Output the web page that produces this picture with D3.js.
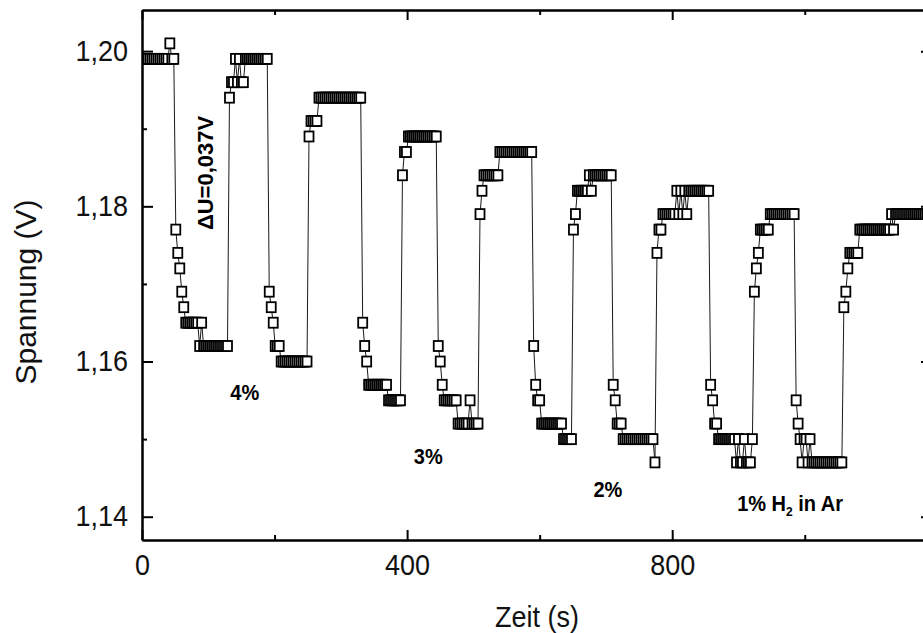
<!DOCTYPE html>
<html><head><meta charset="utf-8">
<script src="https://cdn.jsdelivr.net/npm/d3@7"></script>
<style>html,body{margin:0;padding:0;background:#fff;overflow:hidden}</style>
</head><body>
<svg id="chart" width="923" height="633"></svg>
<script>
// ---------- data ----------
const sampleStep = 3; // seconds between measurements
const voltage = [
  1.199,1.199,1.199,1.199,1.199,1.199,1.199,1.199,1.199,1.199,1.199,1.199,1.199,1.199,1.201,1.199,1.199,
  1.177,1.174,1.172,1.169,1.167,1.165,1.165,1.165,1.165,1.165,1.165,1.165,1.162,1.165,1.162,1.162,1.162,1.162,1.162,1.162,1.162,1.162,1.162,1.162,1.162,1.162,1.162,
  1.194,1.196,1.196,1.199,1.196,1.199,1.196,1.196,1.199,1.199,1.199,1.199,1.199,1.199,1.199,1.199,1.199,1.199,1.199,1.199,
  1.169,1.167,1.165,1.162,1.162,1.162,1.160,1.160,1.160,1.160,1.160,1.160,1.160,1.160,1.160,1.160,1.160,1.160,1.160,1.160,
  1.189,1.191,1.191,1.191,1.191,1.194,1.194,1.194,1.194,1.194,1.194,1.194,1.194,1.194,1.194,1.194,1.194,1.194,1.194,1.194,1.194,1.194,1.194,1.194,1.194,1.194,1.194,
  1.165,1.162,1.160,1.157,1.157,1.157,1.157,1.157,1.157,1.157,1.157,1.157,1.157,1.155,1.155,1.155,1.155,1.155,1.155,1.155,
  1.184,1.187,1.187,1.189,1.189,1.189,1.189,1.189,1.189,1.189,1.189,1.189,1.189,1.189,1.189,1.189,1.189,1.189,
  1.162,1.160,1.157,1.155,1.155,1.155,1.155,1.155,1.155,1.155,1.152,1.152,1.152,1.152,1.152,1.152,1.155,1.152,1.152,1.152,1.152,
  1.179,1.182,1.184,1.184,1.184,1.184,1.184,1.184,1.184,1.184,1.187,1.187,1.187,1.187,1.187,1.187,1.187,1.187,1.187,1.187,1.187,1.187,1.187,1.187,1.187,1.187,1.187,
  1.162,1.157,1.155,1.155,1.152,1.152,1.152,1.152,1.152,1.152,1.152,1.152,1.152,1.152,1.152,1.150,1.150,1.150,1.150,1.150,
  1.177,1.179,1.182,1.182,1.182,1.182,1.182,1.182,1.184,1.182,1.184,1.184,1.184,1.184,1.184,1.184,1.184,1.184,1.184,1.184,
  1.157,1.155,1.152,1.152,1.152,1.150,1.150,1.150,1.150,1.150,1.150,1.150,1.150,1.150,1.150,1.150,1.150,1.150,1.150,1.150,1.150,1.147,
  1.174,1.177,1.177,1.179,1.179,1.179,1.179,1.179,1.179,1.179,1.182,1.179,1.182,1.179,1.182,1.179,1.182,1.182,1.182,1.182,1.182,1.182,1.182,1.182,1.182,1.182,1.182,
  1.157,1.155,1.152,1.152,1.150,1.150,1.150,1.150,1.150,1.150,1.150,1.150,1.150,1.147,1.150,1.147,1.147,1.150,1.147,1.147,1.147,1.150,
  1.169,1.172,1.174,1.177,1.177,1.177,1.177,1.177,1.179,1.179,1.179,1.179,1.179,1.179,1.179,1.179,1.179,1.179,1.179,1.179,1.179,
  1.155,1.152,1.150,1.147,1.150,1.150,1.147,1.150,1.147,1.147,1.147,1.147,1.147,1.147,1.147,1.147,1.147,1.147,1.147,1.147,1.147,1.147,1.147,1.147,
  1.167,1.169,1.172,1.174,1.174,1.174,1.174,1.174,1.177,1.177,1.177,1.177,1.177,1.177,1.177,1.177,1.177,1.177,1.177,1.177,1.177,1.177,1.177,1.177,1.179,1.177,
  1.179,1.179,1.179,1.179,1.179,1.179,1.179,1.179,1.179,1.179,1.179,1.179,1.179,1.179,1.179,1.179,1.179,1.179
];
const xMajorTicks = [0, 400, 800, 1200];
const xMinorTicks = [200, 600, 1000];
const xTickLabels = ["0", "400", "800", ""];
const yMajorTicks = [1.14, 1.16, 1.18, 1.20];
const yMinorTicks = [1.15, 1.17, 1.19];
const yTickLabels = ["1,14", "1,16", "1,18", "1,20"];
const xTitle = "Zeit (s)";
const yTitle = "Spannung (V)";
const deltaLabel = {text: "\u0394U=0,037V", t: 107, v: 1.1843};
const concLabels = [
  {text: "4%", t: 155, v: 1.1551},
  {text: "3%", t: 432, v: 1.1468},
  {text: "2%", t: 703, v: 1.1426}
];
const gasLabel = {pre: "1% H", sub: "2", post: " in Ar", t: 898, v: 1.1408};

// ---------- layout ----------
const plot = {left: 142, top: 10, right: 932, bottom: 540};
const x = d3.scaleLinear().domain([0, 1192]).range([plot.left, plot.right]);
const y = d3.scaleLinear().domain([1.137, 1.2053]).range([plot.bottom, plot.top]);
const FONT = "'Liberation Sans', Arial, Helvetica, sans-serif";
const svg = d3.select("#chart");
svg.append("rect").attr("width", 923).attr("height", 633).attr("fill", "#fff");

const data = voltage.map((v, i) => ({t: i * sampleStep, v}));

svg.append("defs").append("clipPath").attr("id", "clip").append("rect")
  .attr("x", plot.left).attr("y", plot.top)
  .attr("width", plot.right - plot.left).attr("height", plot.bottom - plot.top);

const g = svg.append("g").attr("clip-path", "url(#clip)");
g.append("path").datum(data)
  .attr("d", d3.line().x(d => x(d.t)).y(d => y(d.v)))
  .attr("fill", "none").attr("stroke", "#1a1a1a").attr("stroke-width", 1);
const mw = 9, mh = 10;
g.selectAll("rect.m").data(data).join("rect").attr("class", "m")
  .attr("x", d => x(d.t) - mw / 2).attr("y", d => y(d.v) - mh / 2)
  .attr("width", mw).attr("height", mh)
  .attr("fill", "#fff").attr("stroke", "#000").attr("stroke-width", 1.8);

// ---------- axes ----------
function styleAxis(sel) {
  sel.select(".domain").attr("stroke", "#000").attr("stroke-width", 2);
  sel.selectAll(".tick line").attr("stroke", "#000").attr("stroke-width", 2);
  sel.selectAll("text").attr("font-family", FONT).attr("font-size", 27).attr("fill", "#111");
}
// bottom
const bottomAx = svg.append("g").attr("transform", `translate(0,${plot.bottom})`)
  .call(d3.axisBottom(x).tickValues(xMajorTicks).tickSizeInner(-10).tickSizeOuter(0).tickPadding(12.6)
    .tickFormat((d, i) => xTickLabels[i]));
styleAxis(bottomAx);
bottomAx.selectAll("text").attr("transform", "scale(1,1.1)");
svg.append("g").attr("transform", `translate(0,${plot.bottom})`)
  .call(d3.axisBottom(x).tickValues(xMinorTicks).tickSizeInner(-5).tickSizeOuter(0).tickFormat(""))
  .call(styleAxis);
// top
svg.append("g").attr("transform", `translate(0,${plot.top})`)
  .call(d3.axisTop(x).tickValues(xMajorTicks).tickSizeInner(-10).tickSizeOuter(0).tickFormat(""))
  .call(styleAxis);
svg.append("g").attr("transform", `translate(0,${plot.top})`)
  .call(d3.axisTop(x).tickValues(xMinorTicks).tickSizeInner(-5).tickSizeOuter(0).tickFormat(""))
  .call(styleAxis);
// left
const leftAx = svg.append("g").attr("transform", `translate(${plot.left},0)`)
  .call(d3.axisLeft(y).tickValues(yMajorTicks).tickSizeInner(-11).tickSizeOuter(0).tickPadding(14)
    .tickFormat((d, i) => yTickLabels[i]));
styleAxis(leftAx);
leftAx.selectAll("text").attr("transform", "scale(1,1.1)").attr("dy", "0.3em");
svg.append("g").attr("transform", `translate(${plot.left},0)`)
  .call(d3.axisLeft(y).tickValues(yMinorTicks).tickSizeInner(-5).tickSizeOuter(0).tickFormat(""))
  .call(styleAxis);
// right
svg.append("g").attr("transform", `translate(${plot.right},0)`)
  .call(d3.axisRight(y).tickValues(yMajorTicks).tickSizeInner(-11).tickSizeOuter(0).tickFormat(""))
  .call(styleAxis);
svg.append("g").attr("transform", `translate(${plot.right},0)`)
  .call(d3.axisRight(y).tickValues(yMinorTicks).tickSizeInner(-5).tickSizeOuter(0).tickFormat(""))
  .call(styleAxis);

// ---------- titles ----------
svg.append("text").text(xTitle)
  .attr("transform", `translate(537,627) scale(1,1.1)`)
  .attr("text-anchor", "middle").attr("font-family", FONT).attr("font-size", 27).attr("fill", "#111");
svg.append("text").text(yTitle)
  .attr("transform", `translate(36,292) rotate(-90)`)
  .attr("text-anchor", "middle").attr("font-family", FONT).attr("font-size", 30).attr("fill", "#111");

// ---------- annotations ----------
svg.append("text").text(deltaLabel.text)
  .attr("transform", `translate(${x(deltaLabel.t)},${y(deltaLabel.v)}) rotate(-90)`)
  .attr("text-anchor", "middle").attr("font-family", FONT).attr("font-weight", "bold")
  .attr("font-size", 22).attr("fill", "#000");
svg.selectAll("text.conc").data(concLabels).join("text").attr("class", "conc")
  .text(d => d.text)
  .attr("transform", d => `translate(${x(d.t)},${y(d.v)}) scale(1,1.1)`)
  .attr("text-anchor", "middle").attr("font-family", FONT).attr("font-weight", "bold")
  .attr("font-size", 20).attr("fill", "#000");
const gl = svg.append("text")
  .attr("transform", `translate(${x(gasLabel.t)},${y(gasLabel.v)}) scale(1,1.1)`)
  .attr("font-family", FONT).attr("font-weight", "bold").attr("font-size", 20).attr("fill", "#000");
gl.append("tspan").text(gasLabel.pre);
gl.append("tspan").text(gasLabel.sub).attr("font-size", 12).attr("dy", 5);
gl.append("tspan").text(gasLabel.post).attr("dy", -5);
</script>
</body></html>
